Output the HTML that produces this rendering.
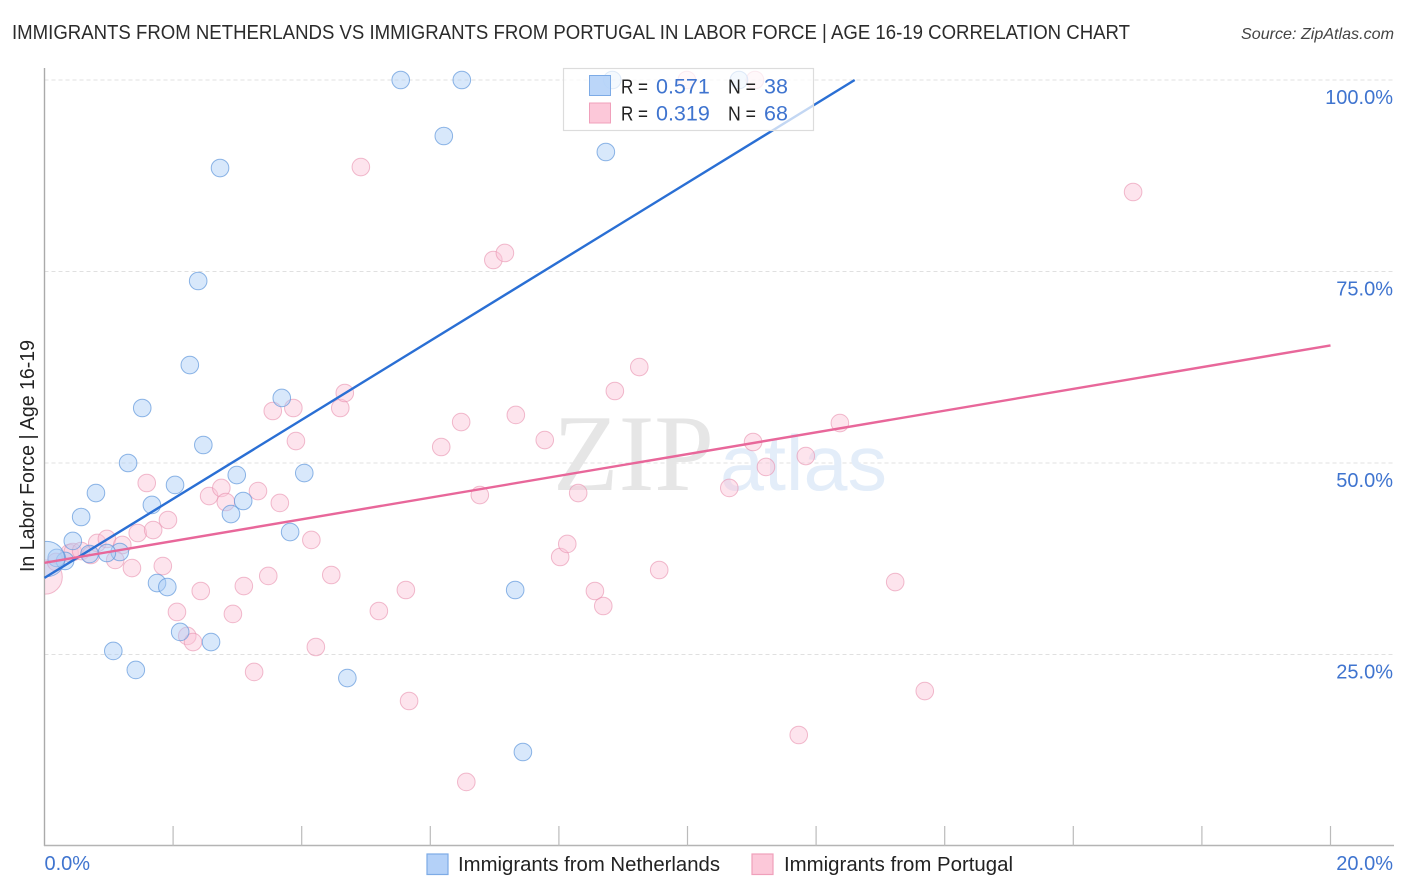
<!DOCTYPE html>
<html>
<head>
<meta charset="utf-8">
<title>Immigrants from Netherlands vs Immigrants from Portugal Correlation Chart</title>
<style>
html,body{margin:0;padding:0;background:#fff;}
svg{display:block;font-family:"Liberation Sans",sans-serif;}
</style>
</head>
<body>
<svg id="chart" xmlns="http://www.w3.org/2000/svg" width="1406" height="892" viewBox="0 0 1406 892">
  <defs><clipPath id="plot-clip"><rect x="45" y="60" width="1350" height="786"/></clipPath></defs>
  <text x="12" y="39" font-size="20" fill="#2b2b2b" textLength="1118" lengthAdjust="spacingAndGlyphs">IMMIGRANTS FROM NETHERLANDS VS IMMIGRANTS FROM PORTUGAL IN LABOR FORCE | AGE 16-19 CORRELATION CHART</text>
  <text x="1241" y="39" font-size="16" font-style="italic" fill="#444" textLength="153" lengthAdjust="spacingAndGlyphs">Source: ZipAtlas.com</text>
  <g id="grid"></g>
  <g>
    <text x="553" y="490" font-family="'Liberation Serif',serif" font-size="109" fill="#e6e6e6" textLength="161" lengthAdjust="spacingAndGlyphs">ZIP</text>
    <text x="720" y="490" font-size="78" fill="#e3edf9" textLength="167" lengthAdjust="spacingAndGlyphs">atlas</text>
  </g>
  <g id="axes"></g>
  <g id="marks" clip-path="url(#plot-clip)"></g>
  <g id="lines"></g>
  <g>
    <rect x="563.5" y="68.5" width="250" height="62" fill="#fff" fill-opacity="0.72" stroke="#dcdcdc" stroke-width="1.2"/>
    <rect x="589.5" y="75.5" width="21" height="20" fill="#b4d1f8" fill-opacity="0.9" stroke="#7dabe6"/>
    <rect x="589.5" y="103" width="21" height="20" fill="#fcc8d9" stroke="#f0a0bb"/>
    <g font-size="20" fill="#222">
      <text x="621" y="93.5" textLength="27" lengthAdjust="spacingAndGlyphs">R =</text>
      <text x="728" y="93.5" textLength="28" lengthAdjust="spacingAndGlyphs">N =</text>
      <text x="621" y="120.5" textLength="27" lengthAdjust="spacingAndGlyphs">R =</text>
      <text x="728" y="120.5" textLength="28" lengthAdjust="spacingAndGlyphs">N =</text>
    </g>
    <g font-size="21.5" fill="#3f74cf">
      <text x="656" y="93.5">0.571</text>
      <text x="764" y="93.5">38</text>
      <text x="656" y="120.5">0.319</text>
      <text x="764" y="120.5">68</text>
    </g>
  </g>
  <text transform="translate(34,572) rotate(-90)" font-size="20" fill="#222" textLength="232" lengthAdjust="spacingAndGlyphs">In Labor Force | Age 16-19</text>
  <g>
    <rect x="427" y="854" width="21" height="20.5" fill="#b4d1f8" stroke="#7dabe6" stroke-width="1.2"/>
    <text x="458" y="871" font-size="20" fill="#222" textLength="262" lengthAdjust="spacingAndGlyphs">Immigrants from Netherlands</text>
    <rect x="752" y="854" width="21" height="20.5" fill="#fcc8d9" stroke="#f0a0bb" stroke-width="1.2"/>
    <text x="784" y="871" font-size="20" fill="#222" textLength="229" lengthAdjust="spacingAndGlyphs">Immigrants from Portugal</text>
  </g>
</svg>
<script>
const netherlandsX = [5.54,6.49,8.83,10.80,6.21,8.73,2.73,2.39,2.26,3.69,1.52,2.47,1.30,2.03,2.99,4.04,0.80,1.67,0.57,3.09,2.90,3.82,0.44,1.17,0.97,0.70,0.32,0.19,0.04,1.75,1.91,7.32,2.11,2.59,1.07,1.42,4.71,7.44];
const netherlandsY = [100,100,100,100,92.69,90.60,88.51,73.76,62.79,58.49,57.18,52.35,50.00,47.13,48.43,48.69,46.08,44.52,42.95,45.04,43.34,40.99,39.82,38.38,38.25,38.12,37.21,37.60,37.47,34.33,33.81,33.42,27.94,26.63,25.46,22.98,21.93,12.27];
const netherlandsWeight = [1,1,1,1,1,1,1,1,1,1,1,1,1,1,1,1,1,1,1,1,1,1,1,1,1,1,1,1,4,1,1,1,1,1,1,1,1,1];
const portugalX = [0.01,0.18,0.39,0.44,0.57,0.72,0.82,0.97,1.21,1.10,1.36,1.45,1.69,1.92,1.59,1.84,2.06,2.22,2.31,2.43,2.56,2.75,2.82,3.32,3.66,3.10,3.48,2.93,3.26,4.22,4.15,4.46,3.55,3.87,3.91,4.60,4.67,4.92,6.98,7.16,6.17,6.48,7.33,7.78,6.77,8.30,8.02,8.13,8.87,9.25,8.56,8.69,9.56,5.20,5.62,5.67,6.56,10.65,11.02,11.22,11.84,12.37,13.23,13.69,11.73,16.93,9.99,11.05];
const portugalY = [35.12,37.08,38.25,38.38,38.51,37.99,39.56,40.08,39.30,37.34,36.29,40.86,41.25,42.56,47.39,36.55,30.55,27.42,26.63,33.29,45.69,46.74,44.91,46.34,44.78,33.94,35.25,30.29,22.72,25.98,39.95,35.38,56.79,57.18,52.87,57.18,59.14,88.64,76.50,77.42,52.09,55.35,56.27,53.00,45.82,46.08,37.73,39.43,59.40,62.53,33.29,31.33,36.03,30.68,33.42,18.93,8.36,46.74,52.74,49.48,50.91,55.22,34.46,20.23,14.49,85.38,100,100];
const portugalWeight = [3.8,1,1,1,1,1,1,1,1,1,1,1,1,1,1,1,1,1,1,1,1,1,1,1,1,1,1,1,1,1,1,1,1,1,1,1,1,1,1,1,1,1,1,1,1,1,1,1,1,1,1,1,1,1,1,1,1,1,1,1,1,1,1,1,1,1,1,1];
const netherlandsTrendX = [0,12.6];
const netherlandsTrendY = [35,100];
const portugalTrendX = [0,20];
const portugalTrendY = [36.97,65.35];
const yTicks = [25,50,75,100];
const yTickLabels = ["25.0%","50.0%","75.0%","100.0%"];
const xTicks = [2,4,6,8,10,12,14,16,18,20];
const xEndValues = [0,20];
const xEndLabels = ["0.0%","20.0%"];

const NS = "http://www.w3.org/2000/svg";
function xScale(v){ return 44.5 + v * 64.3; }
function yScale(v){ return 846 - v * 7.66; }
function make(tag, attrs, parent){
  const el = document.createElementNS(NS, tag);
  for (const k in attrs) el.setAttribute(k, attrs[k]);
  parent.appendChild(el);
  return el;
}
const grid = document.getElementById("grid");
const axes = document.getElementById("axes");
const marks = document.getElementById("marks");
const lines = document.getElementById("lines");

yTicks.forEach(function(t, i){
  const g = make("line", {x1:44.5, x2:1394, y1:yScale(t), y2:yScale(t), stroke:"#e0e0e0", "stroke-width":1, "stroke-dasharray":"4 3"}, grid);
  
  
  const label = make("text", {x:1393, y:yScale(t)+24, "font-size":20, fill:"#3f74cf", "text-anchor":"end"}, axes);
  label.textContent = yTickLabels[i];
  
  
});

const yAxis = make("line", {x1:44.5, x2:44.5, y1:68, y2:846, stroke:"#aaa", "stroke-width":1.4}, axes);


const xAxis = make("line", {x1:44, x2:1394, y1:845.5, y2:845.5, stroke:"#b4b4b4", "stroke-width":1.4}, axes);



xTicks.forEach(function(t){
  const tick = make("line", {x1:xScale(t), x2:xScale(t), y1:826, y2:846, stroke:"#bbb", "stroke-width":1.2}, axes);
  
  
});
xEndValues.forEach(function(v, i){
  const label = make("text", {x: i === 0 ? xScale(v) : 1393, y:870, "font-size":20, fill:"#3f74cf", "text-anchor": i === 0 ? "start" : "end"}, axes);
  label.textContent = xEndLabels[i];
  
  
});

function radius(w){ return 8.8 * Math.sqrt(w); }
portugalX.forEach(function(v, i){
  const c = make("circle", {cx:xScale(v), cy:yScale(portugalY[i]), r:radius(portugalWeight[i]), fill:"#fbc4d6", "fill-opacity":0.45, stroke:"#e88fae", "stroke-opacity":0.6, "stroke-width":1}, marks);
  
  
});
netherlandsX.forEach(function(v, i){
  const c = make("circle", {cx:xScale(v), cy:yScale(netherlandsY[i]), r:radius(netherlandsWeight[i]), fill:"#a9ccf6", "fill-opacity":0.45, stroke:"#5f97dc", "stroke-opacity":0.7, "stroke-width":1}, marks);
  
  
});

const trendN = make("line", {x1:xScale(netherlandsTrendX[0]), y1:yScale(netherlandsTrendY[0]), x2:xScale(netherlandsTrendX[1]), y2:yScale(netherlandsTrendY[1]), stroke:"#2a6fd4", "stroke-width":2.4}, lines);


const trendP = make("line", {x1:xScale(portugalTrendX[0]), y1:yScale(portugalTrendY[0]), x2:xScale(portugalTrendX[1]), y2:yScale(portugalTrendY[1]), stroke:"#e8679a", "stroke-width":2.4}, lines);


</script>
</body>
</html>
